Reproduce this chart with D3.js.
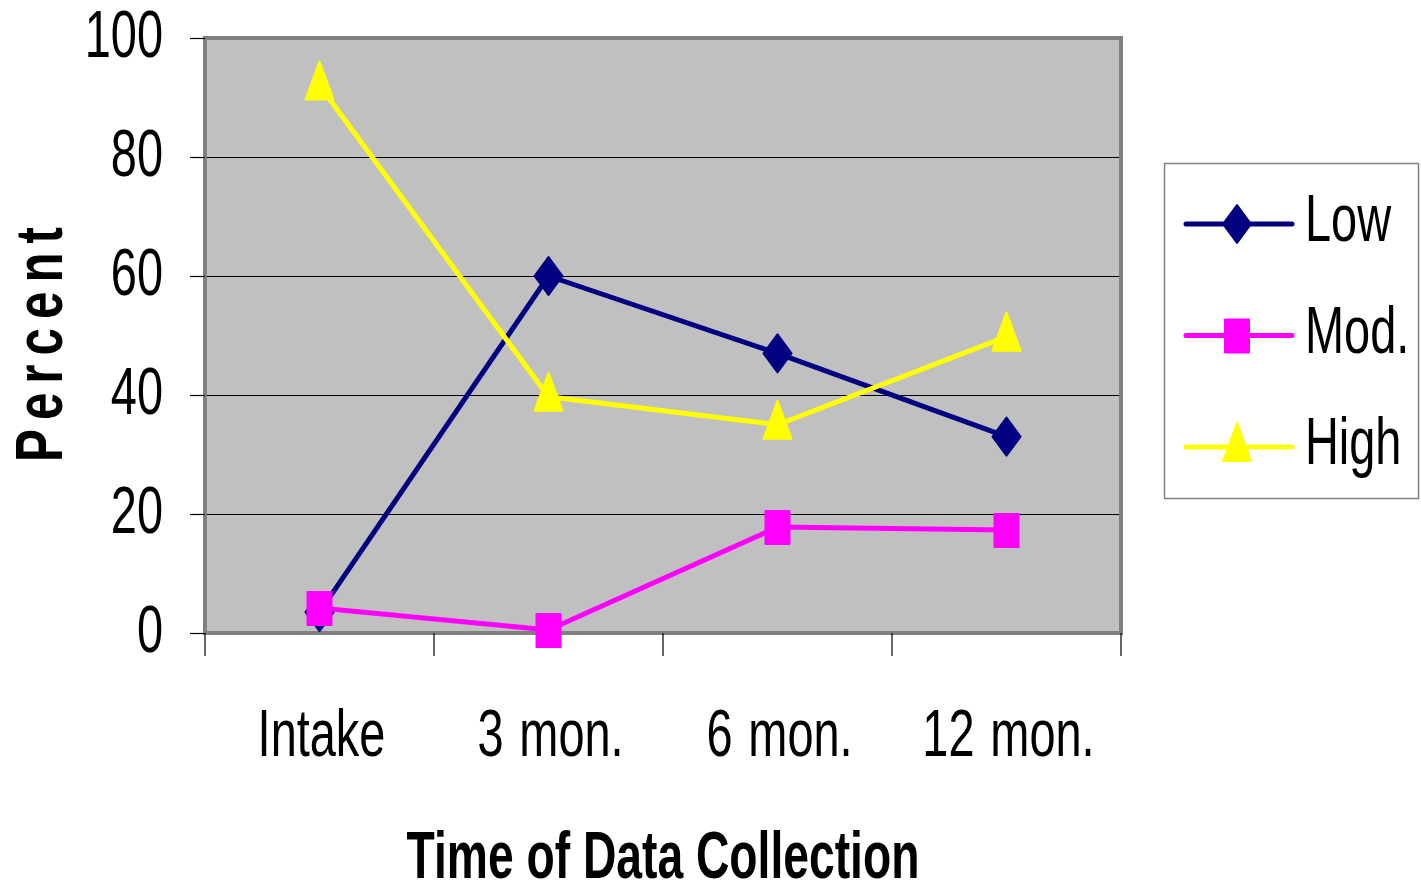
<!DOCTYPE html>
<html>
<head>
<meta charset="utf-8">
<script src="https://cdn.jsdelivr.net/npm/d3@7"></script>
<style>
  body { margin: 0; background: #fff; }
  svg { display: block; }
  text { font-family: "Liberation Sans", Arial, sans-serif; fill: #000; }
</style>
</head>
<body>
<svg width="1421" height="883"></svg>
<script>
(function() {
  var categories = ['Intake', '3 mon.', '6 mon.', '12 mon.'];
  var lowValues  = [3.5, 60, 47, 33];
  var modValues  = [4.2, 0.5, 17.8, 17.3];
  var highValues = [92, 39.7, 35, 49.8];
  var seriesNames = ['Low', 'Mod.', 'High'];
  var yTicks = [0, 20, 40, 60, 80, 100];

  var series = [
    { name: seriesNames[0], values: lowValues,  color: '#000080', shape: 'diamond' },
    { name: seriesNames[1], values: modValues,  color: '#FF00FF', shape: 'square' },
    { name: seriesNames[2], values: highValues, color: '#FFFF00', shape: 'triangle' }
  ];

  var svg = d3.select('svg');
  var left = 205, right = 1121, top = 38, bottom = 633;
  var squeeze = 0.7;

  // narrow glyphs like the original condensed font
  function condense(sel, k) {
    sel.each(function() {
      var len = this.getComputedTextLength();
      d3.select(this).attr('textLength', len * k).attr('lengthAdjust', 'spacingAndGlyphs');
    });
  }

  // marker shapes, a bit taller than wide
  function markerPath(shape) {
    var p = d3.path();
    if (shape === 'diamond') {
      p.moveTo(0, -19); p.lineTo(14, 0); p.lineTo(0, 19); p.lineTo(-14, 0); p.closePath();
    } else if (shape === 'square') {
      p.rect(-12, -16, 24, 33);
    } else {
      p.moveTo(0, -24); p.lineTo(14, 14); p.lineTo(-14, 14); p.closePath();
    }
    return p.toString();
  }

  var x = d3.scaleBand().domain(categories).range([left, right]);
  var y = d3.scaleLinear().domain([0, 100]).range([bottom, top]);

  // plot area
  svg.append('rect')
    .attr('x', left).attr('y', top)
    .attr('width', right - left).attr('height', bottom - top)
    .attr('fill', '#C0C0C0');

  svg.append('g').selectAll('line').data(yTicks.filter(function(d) { return d > 0 && d < 100; }))
    .enter().append('line')
    .attr('x1', left).attr('x2', right)
    .attr('y1', function(d) { return Math.round(y(d)) + 0.5; })
    .attr('y2', function(d) { return Math.round(y(d)) + 0.5; })
    .attr('stroke', '#000').attr('stroke-width', 1);

  svg.append('rect')
    .attr('x', left).attr('y', top)
    .attr('width', right - left).attr('height', bottom - top)
    .attr('fill', 'none').attr('stroke', '#808080').attr('stroke-width', 4);

  // y axis
  var yAxis = svg.append('g')
    .attr('transform', 'translate(' + left + ',0)')
    .call(d3.axisLeft(y).tickValues(yTicks).tickSize(15).tickPadding(27));
  yAxis.select('.domain').remove();
  yAxis.selectAll('line').attr('stroke', '#000').attr('stroke-width', 1.2);
  yAxis.selectAll('text')
    .attr('font-size', 67).attr('font-family', '"Liberation Sans", Arial, sans-serif')
    .attr('dy', 18).attr('fill', '#000');
  condense(yAxis.selectAll('text'), squeeze);

  // x axis: ticks on band edges
  var edges = categories.map(function(c) { return x(c); }).concat([right]);
  svg.append('g').selectAll('line').data(edges).enter().append('line')
    .attr('x1', function(d) { return d; }).attr('x2', function(d) { return d; })
    .attr('y1', bottom).attr('y2', bottom + 23)
    .attr('stroke', '#000').attr('stroke-width', 1.2);

  var xLabels = svg.append('g').selectAll('text').data(categories).enter().append('text')
    .attr('x', function(d) { return x(d) + x.bandwidth() / 2 + 2; })
    .attr('y', 756)
    .attr('text-anchor', 'middle')
    .attr('font-size', 67)
    .attr('word-spacing', 4)
    .text(function(d) { return d; });
  condense(xLabels, squeeze);

  // lines and markers
  var line = d3.line()
    .x(function(d, i) { return x(categories[i]) + x.bandwidth() / 2; })
    .y(function(d) { return y(d); });

  var groups = svg.append('g').selectAll('g').data(series).enter().append('g');
  groups.append('path')
    .attr('d', function(s) { return line(s.values); })
    .attr('fill', 'none')
    .attr('stroke', function(s) { return s.color; })
    .attr('stroke-width', 5)
    .attr('stroke-linejoin', 'round');
  groups.each(function(s) {
    d3.select(this).selectAll('.mk').data(s.values).enter().append('path')
      .attr('class', 'mk')
      .attr('d', markerPath(s.shape))
      .attr('fill', s.color)
      .attr('stroke', s.color).attr('stroke-width', 2).attr('stroke-linejoin', 'round')
      .attr('transform', function(d, i) {
        return 'translate(' + (x(categories[i]) + x.bandwidth() / 2) + ',' + y(d) + ')';
      });
  });

  // titles
  var xTitle = svg.append('text')
    .attr('x', (left + right) / 2).attr('y', 878)
    .attr('text-anchor', 'middle')
    .attr('font-size', 67).attr('font-weight', 'bold')
    .text('Time of Data Collection');
  condense(xTitle, 0.69);

  var yTitle = svg.append('text')
    .attr('transform', 'translate(62,340) rotate(-90)')
    .attr('text-anchor', 'middle')
    .attr('font-size', 66).attr('font-weight', 'bold')
    .attr('letter-spacing', 12)
    .text('Percent');
  yTitle.attr('textLength', 244).attr('lengthAdjust', 'spacingAndGlyphs');

  // legend
  var legend = svg.append('g');
  legend.append('rect')
    .attr('x', 1164.5).attr('y', 163.5).attr('width', 254).attr('height', 335)
    .attr('fill', '#fff').attr('stroke', '#808080').attr('stroke-width', 1.5);
  var legendY = d3.scalePoint().domain(seriesNames).range([224, 447]);
  var items = legend.selectAll('.item').data(series).enter().append('g')
    .attr('class', 'item')
    .attr('transform', function(s) { return 'translate(0,' + legendY(s.name) + ')'; });
  items.append('line')
    .attr('x1', 1186).attr('x2', 1292)
    .attr('stroke', function(s) { return s.color; })
    .attr('stroke-width', 5).attr('stroke-linecap', 'round');
  items.append('path')
    .attr('d', function(s) { return markerPath(s.shape); })
    .attr('transform', 'translate(1237,0)')
    .attr('fill', function(s) { return s.color; })
    .attr('stroke', function(s) { return s.color; }).attr('stroke-width', 2).attr('stroke-linejoin', 'round');
  var legendText = items.append('text')
    .attr('x', 1305).attr('y', 17)
    .attr('font-size', 67)
    .text(function(s) { return s.name; });
  condense(legendText, squeeze);
})();
</script>
</body>
</html>
